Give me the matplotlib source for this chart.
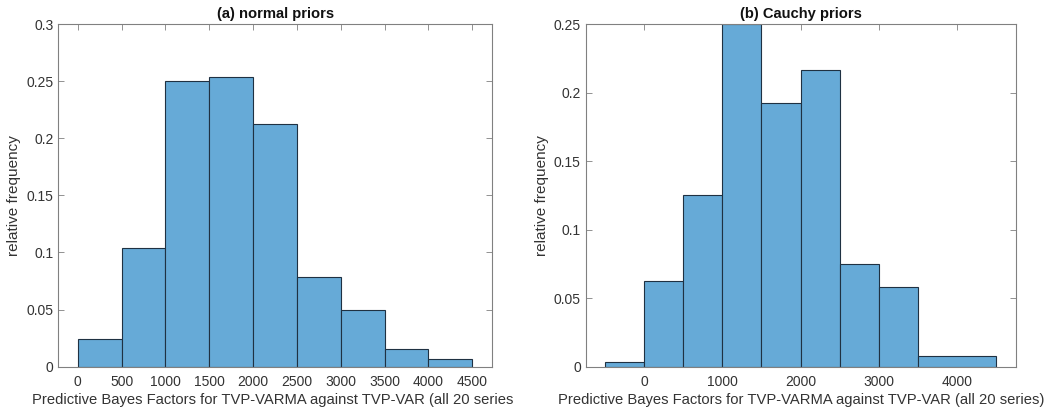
import numpy as np
import matplotlib
matplotlib.use("Agg")
import matplotlib.pyplot as plt
from matplotlib.transforms import Bbox, TransformedBbox
from matplotlib.ticker import FuncFormatter

plt.rcParams['font.family'] = ['Liberation Sans', 'DejaVu Sans']

# Histogram bin edges and relative frequencies
normal_edges = [0, 500, 1000, 1500, 2000, 2500, 3000, 3500, 4000, 4500]
normal_freq = [0.0243, 0.1036, 0.2502, 0.2539, 0.2125, 0.0788, 0.0496, 0.0158, 0.0070]

cauchy_edges = [-500, 0, 500, 1000, 1500, 2000, 2500, 3000, 3500, 4500]
cauchy_freq = [0.0034, 0.0623, 0.1250, 0.2500, 0.1921, 0.2162, 0.0747, 0.0579, 0.0075]

titles = ['(a) normal priors', '(b) Cauchy priors']
xlabel = 'Predictive Bayes Factors for TVP-VARMA against TVP-VAR (all 20 series)'
ylabel = 'relative frequency'

normal_xticks = [0, 500, 1000, 1500, 2000, 2500, 3000, 3500, 4000, 4500]
cauchy_xticks = [0, 1000, 2000, 3000, 4000]
normal_yticks = [0, 0.05, 0.1, 0.15, 0.2, 0.25, 0.3]
cauchy_yticks = [0, 0.05, 0.1, 0.15, 0.2, 0.25]

W, H = 1047, 415
fig = plt.figure(figsize=(W / 100, H / 100), dpi=100)

face = '#66aad7'
edge = '#1f3142'
spine = '#808080'
txt = '#333333'

def px_axes(x0, x1, ytop, ybot):
    return fig.add_axes([x0 / W, 1 - ybot / H, (x1 - x0) / W, (ybot - ytop) / H])

ax1 = px_axes(58.3, 492.3, 24, 366.7)
ax2 = px_axes(585.7, 1016.3, 24, 366.7)

fmt = FuncFormatter(lambda v, p: ('%g' % round(v, 4)))

panels = [
    (ax1, normal_edges, normal_freq, normal_xticks, normal_yticks, (-222, 4728), (0, 0.3), titles[0]),
    (ax2, cauchy_edges, cauchy_freq, cauchy_xticks, cauchy_yticks, (-744, 4753), (0, 0.25), titles[1]),
]

for ax, edges, freq, xt, yt, xl, yl, title in panels:
    e = np.asarray(edges, dtype=float)
    ax.bar(e[:-1], freq, width=np.diff(e), align='edge', color=face,
           edgecolor=edge, linewidth=0.8, zorder=2)
    ax.set_xlim(*xl)
    ax.set_ylim(*yl)
    ax.set_xticks(xt)
    ax.set_yticks(yt)
    ax.yaxis.set_major_formatter(fmt)
    ax.tick_params(direction='in', length=4, width=0.6, color=spine,
                   labelsize=10, labelcolor=txt, top=True, right=True)
    ax.tick_params(axis='y', pad=3.5)
    ax.tick_params(axis='x', pad=6)
    for s in ax.spines.values():
        s.set_color(spine)
        s.set_linewidth(0.8)
        s.set_zorder(3)
    ax.set_title(title, fontsize=10.6, fontweight='bold', color='#111111', pad=4)
    ax.set_ylabel(ylabel, fontsize=11, color=txt, labelpad=3.5)

# left panel's label is cut off at the panel boundary
lab1 = ax1.set_xlabel(xlabel, fontsize=10.6, color=txt, labelpad=3)
lab1.set_clip_box(TransformedBbox(Bbox([[0, 0], [512.5 / W, 1]]), fig.transFigure))
lab1.set_clip_on(True)
ax2.set_xlabel(xlabel, fontsize=10.6, color=txt, labelpad=3)

fig.savefig('out.png', dpi=100, facecolor='white')
